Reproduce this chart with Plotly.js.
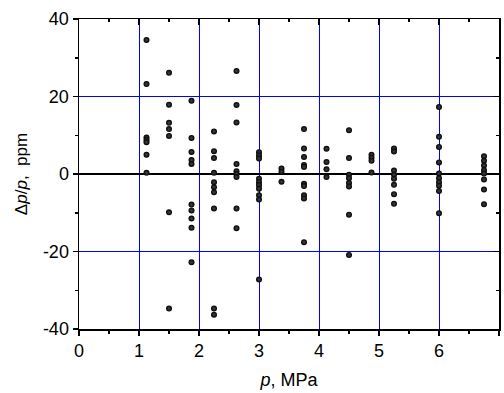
<!DOCTYPE html>
<html>
<head>
<meta charset="utf-8">
<script src="https://cdn.plot.ly/plotly-3.0.1.min.js"></script>
<style>html,body{margin:0;padding:0;background:#fff;}#chart{width:504px;height:393px;}</style>
</head>
<body>
<div id="chart"></div>
<script>
// Pressure columns (MPa)
const pressures = [1.125, 1.5, 1.875, 2.25, 2.625, 3.0, 3.375, 3.75, 4.125, 4.5, 4.875, 5.25, 6.0, 6.75];
// Relative deviations (ppm) for each pressure column
const dev_1125 = [34.6, 23.2, 9.4, 8.8, 8.2, 5.0, 0.3];
const dev_1500 = [26.1, 17.9, 13.2, 11.6, 9.8, -9.9, -34.7];
const dev_1875 = [18.9, 9.3, 5.7, 3.6, 2.6, -7.9, -9.4, -11.5, -13.9, -22.8];
const dev_2250 = [11.0, 5.9, 4.1, 0.3, -2.1, -3.4, -4.7, -8.9, -34.7, -36.3];
const dev_2625 = [26.6, 17.8, 13.3, 2.6, 0.7, 0.0, -0.8, -8.9, -14.0];
const dev_3000 = [5.6, 4.8, 4.0, -1.2, -2.1, -2.9, -3.8, -5.5, -6.6, -27.2];
const dev_3375 = [1.4, 0.6, -2.0];
const dev_3750 = [11.6, 6.6, 4.4, 2.3, 1.8, -2.5, -3.1, -5.5, -6.3, -17.6];
const dev_4125 = [6.5, 3.1, 1.2, -0.8];
const dev_4500 = [11.3, 4.1, -0.2, -1.1, -2.3, -3.2, -10.5, -20.9];
const dev_4875 = [5.0, 4.2, 3.4, 0.4];
const dev_5250 = [6.6, 5.8, 0.9, -0.2, -1.2, -2.8, -5.2, -7.7];
const dev_6000 = [17.3, 9.6, 7.0, 3.0, 0.1, -1.1, -2.1, -3.0, -4.4, -10.1];
const dev_6750 = [4.6, 3.4, 2.2, 1.0, 0.1, -1.4, -4.0, -7.8];
const deviations = [dev_1125, dev_1500, dev_1875, dev_2250, dev_2625, dev_3000, dev_3375,
                    dev_3750, dev_4125, dev_4500, dev_4875, dev_5250, dev_6000, dev_6750];

// Tick labels
const xTickVals = [0, 1, 2, 3, 4, 5, 6, 7];
const xTickText = ['0', '1', '2', '3', '4', '5', '6', '7'];
const yTickVals = [-40, -20, 0, 20, 40];
const yTickText = ['-40', '-20', '0', '20', '40'];

const xs = [], ys = [];
pressures.forEach((p, i) => deviations[i].forEach(d => { xs.push(p); ys.push(d); }));

const FONT = 'Liberation Sans, Arial, sans-serif';
const traces = [
  {x: xs, y: ys, type: 'scatter', mode: 'markers',
   marker: {color: '#000', size: 6, gradient: {type: 'radial', color: '#444'}},
   showlegend: false, hoverinfo: 'skip'},
  {x: [null], y: [null], xaxis: 'x2', yaxis: 'y2', type: 'scatter', mode: 'markers',
   showlegend: false, hoverinfo: 'skip'}
];

const layout = {
  width: 504, height: 393,
  margin: {l: 79, r: 5, t: 19, b: 64},
  paper_bgcolor: '#fff', plot_bgcolor: '#fff',
  font: {family: FONT, size: 18, color: '#000'},
  showlegend: false,
  xaxis: {
    range: [0, 7], tickmode: 'array', tickvals: xTickVals, ticktext: xTickText,
    ticks: 'outside', ticklen: 5, tickwidth: 1.5, tickcolor: '#000',
    showline: true, linecolor: '#000', linewidth: 1.5,
    showgrid: true, gridcolor: '#0000ff', gridwidth: 1, zeroline: false,
    minor: {dtick: 0.5, ticks: 'outside', ticklen: 3, tickwidth: 1.5, tickcolor: '#000', showgrid: false},
    title: {text: '<i>p</i>, MPa', font: {size: 18}, standoff: 13}
  },
  yaxis: {
    range: [-40, 40], tickmode: 'array', tickvals: yTickVals, ticktext: yTickText,
    ticks: 'outside', ticklen: 5, tickwidth: 1.5, tickcolor: '#000',
    showline: true, linecolor: '#000', linewidth: 1.5,
    showgrid: true, gridcolor: '#0000ff', gridwidth: 1,
    zeroline: true, zerolinecolor: '#000', zerolinewidth: 2,
    minor: {dtick: 10, ticks: 'outside', ticklen: 3, tickwidth: 1.5, tickcolor: '#000', showgrid: false},
    title: {text: 'Δ<i>p</i>/<i>p</i>,  ppm', font: {size: 17}, standoff: 11}
  },
  xaxis2: {
    overlaying: 'x', side: 'top', anchor: 'y2', range: [0, 7], tick0: 0, dtick: 1,
    ticks: 'inside', ticklen: 6, tickwidth: 1.5, tickcolor: '#000',
    showline: true, linecolor: '#000', linewidth: 1.5, showticklabels: false,
    showgrid: false, zeroline: false,
    minor: {dtick: 0.5, ticks: 'inside', ticklen: 3, tickwidth: 1.5, tickcolor: '#000', showgrid: false}
  },
  yaxis2: {
    overlaying: 'y', side: 'right', anchor: 'x2', range: [-40, 40], tick0: 0, dtick: 20,
    ticks: 'inside', ticklen: 6, tickwidth: 1.5, tickcolor: '#000',
    showline: true, linecolor: '#000', linewidth: 1.5, showticklabels: false,
    showgrid: false, zeroline: false,
    minor: {dtick: 10, ticks: 'inside', ticklen: 3, tickwidth: 1.5, tickcolor: '#000', showgrid: false}
  }
};

Plotly.newPlot('chart', traces, layout, {staticPlot: true, displayModeBar: false});
</script>
</body>
</html>
